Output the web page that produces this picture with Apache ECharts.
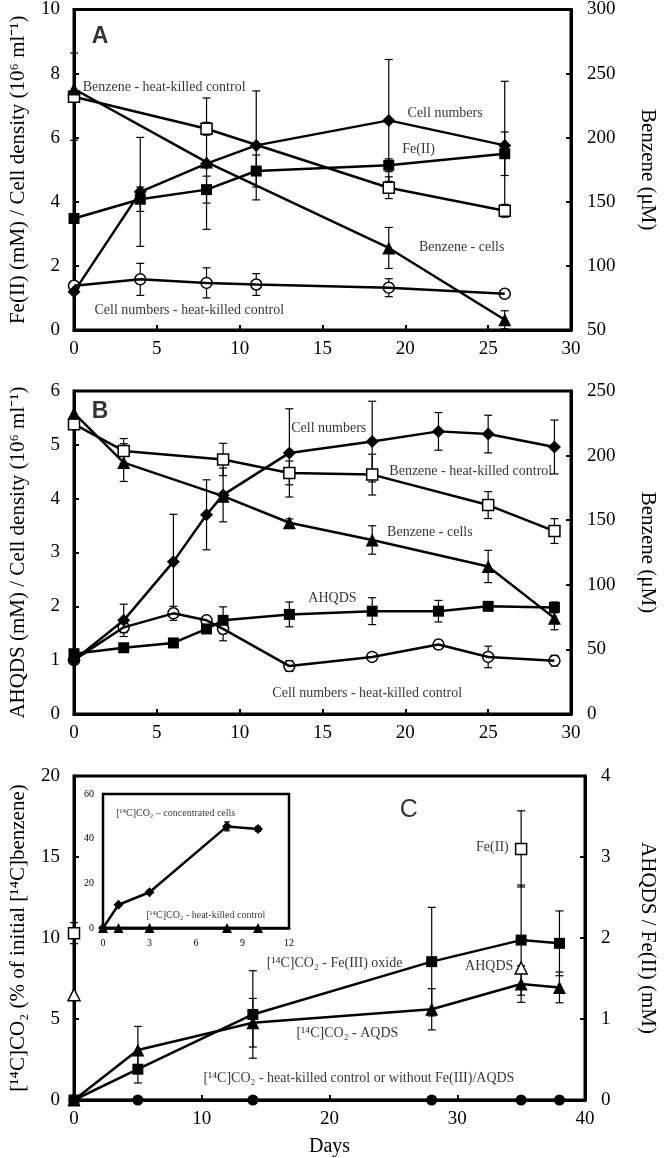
<!DOCTYPE html>
<html><head><meta charset="utf-8">
<script src="https://cdn.jsdelivr.net/npm/echarts@6/dist/echarts.min.js"></script>
<style>html,body{margin:0;padding:0;background:#fff}#c{width:666px;height:1158px}</style>
</head><body><div id="c"></div>
<script>
// ---------- Panel A ----------
const daysA = [0, 4, 8, 11, 19, 26];
const cellsA = [1.19, 4.31, 5.19, 5.76, 6.54, 5.76];
const cellsAErr = [0, 1.7, 2.05, 1.7, 1.9, 2.0];
const fe2A = [3.48, 4.08, 4.38, 4.96, 5.14, 5.5];
const fe2AErr = [0, 0.38, 0.42, 0.5, 0.2, 0.68];
const cellsKilledA = [1.38, 1.58, 1.47, 1.42, 1.32, 1.13];
const cellsKilledAErr = [0, 0.5, 0.47, 0.34, 0.28, 0.07];
const daysBenzA = [0, 8, 19, 26];
const benzKilledA = [232, 207, 161, 143];
const benzKilledAErr = [34, 5, 8.5, 5];
const benzCellsA = [238, 181, 114, 58];
const benzCellsAErr = [0, 0, 16, 7];
// ---------- Panel B ----------
const daysB = [0, 3, 6, 8, 9, 13, 18, 22, 25, 29];
const cellsB = [1.0, 1.74, 2.83, 3.70, 4.07, 4.85, 5.06, 5.25, 5.20, 4.96];
const cellsBErr = [0, 0.3, 0.88, 0.65, 0.5, 0.82, 0.75, 0.35, 0.35, 0.5];
const ahqdsB = [1.12, 1.23, 1.32, 1.58, 1.74, 1.85, 1.91, 1.91, 2.0, 1.98];
const ahqdsBErr = [0, 0, 0, 0, 0.25, 0.23, 0.25, 0.2, 0.05, 0.1];
const cellsKilledB = [1.0, 1.61, 1.87, 1.74, 1.58, 0.89, 1.06, 1.29, 1.06, 0.99];
const cellsKilledBErr = [0, 0.1, 0.13, 0.05, 0.22, 0.1, 0.05, 0.08, 0.2, 0.1];
const daysBenzB = [0, 3, 9, 13, 18, 25, 29];
const benzKilledB = [224.3, 203.6, 197, 186.6, 185.3, 161.7, 141.6];
const benzKilledBErr = [0, 9.6, 12.5, 9.2, 15.8, 10.4, 9.6];
const benzCellsB = [232.8, 194.6, 168.6, 148, 134.7, 114.2, 74.2];
const benzCellsBErr = [0, 14.6, 0, 3, 11, 12.5, 9];
// ---------- Panel C ----------
const daysC = [0, 5, 14, 28, 35, 38];
const co2FeOxide = [0, 1.9, 5.28, 8.54, 9.87, 9.67];
const co2FeOxideErr = [0, 0.85, 2.7, 3.35, 3.4, 2.0];
const co2Aqds = [0, 3.09, 4.77, 5.6, 7.16, 6.95];
const co2AqdsErr = [0, 1.45, 1.5, 1.27, 1.13, 0.95];
const co2Killed = [0, 0, 0, 0, 0, 0];
const daysFeC = [0, 35];
const fe2C = [2.06, 3.10];
const fe2CErr = [0.13, 0.47];
const ahqdsC = [1.30, 1.63];
// ---------- Inset ----------
const daysInset = [0, 1, 3, 8, 10];
const co2Conc = [0, 10.4, 16.0, 45.5, 44.3];
const co2ConcErr = [0, 0, 0, 2.0, 1.0];
const co2KilledInset = [0, 0, 0, 0, 0];
// ---------- Text ----------
const annotA = [[5.44, 7.58, 'Benzene - heat-killed control'], [22.4, 6.75, 'Cell numbers'], [20.8, 5.64, 'Fe(II)'], [23.4, 2.59, 'Benzene - cells'], [6.96, 0.62, 'Cell numbers - heat-killed control']];
const annotB = [[15.38, 5.31, 'Cell numbers'], [23.95, 4.50, 'Benzene - heat-killed control'], [21.48, 3.375, 'Benzene - cells'], [15.6, 2.15, 'AHQDS'], [17.7, 0.385, 'Cell numbers - heat-killed control']];
const annotC = [[32.75, 15.6, 'Fe(II)'], [32.5, 8.23, 'AHQDS'], [20.4, 8.44, '[¹⁴C]CO₂ - Fe(III) oxide'], [21.4, 4.12, '[¹⁴C]CO₂ - AQDS'], [22.3, 1.34, '[¹⁴C]CO₂ - heat-killed control or without Fe(III)/AQDS']];
const annotInset = [[4.69, 51.5, '[¹⁴C]CO₂ – concentrated cells'], [6.63, 5.6, '[¹⁴C]CO₂ - heat-killed control']];
const letterA = [[1.57, 9.16, 'A']];
const letterB = [[1.57, 5.61, 'B']];
const letterC = [[26.2, 17.9, 'C']];

const SERIF = '"Liberation Serif","Times New Roman",serif';
const SANS = '"Liberation Sans",Arial,sans-serif';

function xAx(g, min, max, interval, extra) {
  return Object.assign({
    gridIndex: g, type: 'value', min, max, interval,
    axisLine: {show: true, onZero: false, lineStyle: {color: '#000', width: 3}},
    axisTick: {show: true, inside: true, length: 5, lineStyle: {color: '#000', width: 2}},
    axisLabel: {color: '#000', fontFamily: SERIF, fontSize: 19, margin: 10},
    splitLine: {show: false}
  }, extra || {});
}
function yAx(g, pos, min, max, interval, name, gap, extra) {
  return Object.assign({
    gridIndex: g, type: 'value', position: pos, min, max, interval,
    name, nameLocation: 'middle', nameGap: gap, nameRotate: pos === 'left' ? 90 : -90,
    nameTextStyle: {color: '#000', fontFamily: SERIF, fontSize: 21},
    axisLine: {show: true, onZero: false, lineStyle: {color: '#000', width: 3}},
    axisTick: {show: true, inside: true, length: 5, lineStyle: {color: '#000', width: 2}},
    axisLabel: {color: '#000', fontFamily: SERIF, fontSize: 19, margin: pos === 'left' ? 14 : 16},
    splitLine: {show: false}
  }, extra || {});
}

const series = [];
function zip(xs, ys) { return xs.map((x, i) => [x, ys[i]]); }
function styleOf(open) {
  return open ? {color: '#fff', borderColor: '#000', borderWidth: 1.5, opacity: 1} : {color: '#000', opacity: 1};
}
function addLine(xi, yi, xs, ys, symbol, size, open, lineOver) {
  const data = zip(xs, ys);
  const itemStyle = styleOf(open);
  if (lineOver) {
    series.push({type: 'scatter', xAxisIndex: xi, yAxisIndex: yi, data, symbol, symbolSize: size, itemStyle, z: 3, clip: false});
    series.push({type: 'line', xAxisIndex: xi, yAxisIndex: yi, data, showSymbol: false, lineStyle: {color: '#000', width: 2.5}, z: 4, clip: false});
  } else {
    series.push({type: 'line', xAxisIndex: xi, yAxisIndex: yi, data, symbol, symbolSize: size, showSymbol: true,
      itemStyle, lineStyle: {color: '#000', width: 2.5}, z: 4, clip: false});
  }
}
function addPoints(xi, yi, xs, ys, symbol, size, open) {
  series.push({type: 'scatter', xAxisIndex: xi, yAxisIndex: yi, data: zip(xs, ys), symbol, symbolSize: size, itemStyle: styleOf(open), z: 5, clip: false});
}
function addErr(xi, yi, xs, ys, es, cap) {
  const data = xs.map((x, i) => [x, ys[i], es[i]]).filter(d => d[2] > 0);
  const c = cap || 4;
  series.push({
    type: 'custom', xAxisIndex: xi, yAxisIndex: yi, data, z: 2, clip: false, silent: true,
    encode: {x: 0, y: 1},
    renderItem: function (params, api) {
      const x = api.value(0), y = api.value(1), e = api.value(2);
      const lo = api.coord([x, y - e]), hi = api.coord([x, y + e]);
      const st = {stroke: '#000', lineWidth: 1.2};
      return {type: 'group', children: [
        {type: 'line', shape: {x1: lo[0], y1: lo[1], x2: hi[0], y2: hi[1]}, style: st},
        {type: 'line', shape: {x1: lo[0] - c, y1: lo[1], x2: lo[0] + c, y2: lo[1]}, style: st},
        {type: 'line', shape: {x1: hi[0] - c, y1: hi[1], x2: hi[0] + c, y2: hi[1]}, style: st}
      ]};
    }
  });
}
function addText(xi, yi, arr, style) {
  series.push({
    type: 'scatter', xAxisIndex: xi, yAxisIndex: yi, data: arr.map(a => [a[0], a[1], a[2]]),
    symbolSize: 1, itemStyle: {color: 'rgba(0,0,0,0)'}, silent: true, z: 10, clip: false,
    label: Object.assign({show: true, position: 'inside', formatter: p => p.data[2], color: '#000',
      fontFamily: SERIF, fontSize: 14, align: 'center', verticalAlign: 'middle'}, style || {})
  });
}

// Panel A (x 0, yL 0, yR 1)
addErr(0, 0, daysA, cellsA, cellsAErr);
addErr(0, 0, daysA, fe2A, fe2AErr);
addErr(0, 0, daysA, cellsKilledA, cellsKilledAErr);
addErr(0, 1, daysBenzA, benzKilledA, benzKilledAErr);
addErr(0, 1, daysBenzA, benzCellsA, benzCellsAErr);
addLine(0, 1, daysBenzA, benzKilledA, 'rect', 11, true);
addLine(0, 1, daysBenzA, benzCellsA, 'triangle', 13, false);
addLine(0, 0, daysA, cellsA, 'diamond', 13, false);
addLine(0, 0, daysA, fe2A, 'rect', 11, false);
addLine(0, 0, daysA, cellsKilledA, 'circle', 11, true, true);
addText(0, 0, annotA);
addText(0, 0, letterA, {fontFamily: SANS, fontWeight: 'bold', fontSize: 23});

// Panel B (x 1, yL 2, yR 3)
addErr(1, 2, daysB, cellsB, cellsBErr);
addErr(1, 2, daysB, ahqdsB, ahqdsBErr);
addErr(1, 2, daysB, cellsKilledB, cellsKilledBErr);
addErr(1, 3, daysBenzB, benzKilledB, benzKilledBErr);
addErr(1, 3, daysBenzB, benzCellsB, benzCellsBErr);
addLine(1, 3, daysBenzB, benzKilledB, 'rect', 11, true);
addLine(1, 3, daysBenzB, benzCellsB, 'triangle', 13, false);
addLine(1, 2, daysB, cellsKilledB, 'circle', 11, true, true);
addLine(1, 2, daysB, ahqdsB, 'rect', 11, false);
addLine(1, 2, daysB, cellsB, 'diamond', 13, false);
addText(1, 2, annotB);
addText(1, 2, letterB, {fontFamily: SANS, fontWeight: 'bold', fontSize: 23});

// Panel C (x 2, yL 4, yR 5)
addErr(2, 4, daysC, co2FeOxide, co2FeOxideErr);
addErr(2, 4, daysC, co2Aqds, co2AqdsErr);
addErr(2, 5, daysFeC, fe2C, fe2CErr);
addLine(2, 4, daysC, co2Killed, 'circle', 11, false);
addLine(2, 4, daysC, co2Aqds, 'triangle', 13, false);
addLine(2, 4, daysC, co2FeOxide, 'rect', 11, false);
addPoints(2, 5, daysFeC, fe2C, 'rect', 11, true);
addPoints(2, 5, daysFeC, ahqdsC, 'triangle', 12, true);
addText(2, 4, annotC);
addText(2, 4, letterC, {fontFamily: SANS, fontSize: 25});

// Inset (x 3, y 6)
addErr(3, 6, daysInset, co2Conc, co2ConcErr, 3);
addLine(3, 6, daysInset, co2KilledInset, 'triangle', 10, false);
addLine(3, 6, daysInset, co2Conc, 'diamond', 10, false);
addText(3, 6, annotInset, {fontSize: 10});

const gridBase = {show: true, borderColor: '#000', borderWidth: 3, backgroundColor: 'transparent'};
const option = {
  animation: false,
  backgroundColor: '#fff',
  grid: [
    Object.assign({left: 69, top: 8, width: 516, height: 322}, gridBase),
    Object.assign({left: 69, top: 391, width: 516, height: 323}, gridBase),
    Object.assign({left: 69, top: 776, width: 516, height: 324}, gridBase),
    {show: true, left: 103, top: 794, width: 186, height: 134, borderColor: '#000', borderWidth: 2.5, backgroundColor: '#fff', z: 1}
  ],
  xAxis: [
    xAx(0, 0, 30, 5),
    xAx(1, 0, 30, 5),
    xAx(2, 0, 40, 10, {name: 'Days', nameLocation: 'middle', nameGap: 37,
      nameTextStyle: {color: '#000', fontFamily: SERIF, fontSize: 20}}),
    xAx(3, 0, 12, 3, {axisLine: {show: true, onZero: false, lineStyle: {color: '#000', width: 2.5}},
      axisTick: {show: true, inside: true, length: 3, lineStyle: {color: '#000', width: 2}},
      axisLabel: {color: '#000', fontFamily: SERIF, fontSize: 10, margin: 10}})
  ],
  yAxis: [
    yAx(0, 'left', 0, 10, 2, 'Fe(II) (mM) / Cell density (10⁶ ml⁻¹)', 45),
    yAx(0, 'right', 50, 300, 50, 'Benzene (μM)', 66),
    yAx(1, 'left', 0, 6, 1, 'AHQDS (mM) / Cell density (10⁶ ml⁻¹)', 45),
    yAx(1, 'right', 0, 250, 50, 'Benzene (μM)', 66),
    yAx(2, 'left', 0, 20, 5, '[¹⁴C]CO₂ (% of initial [¹⁴C]benzene)', 45),
    yAx(2, 'right', 0, 4, 1, 'AHQDS / Fe(II) (mM)', 52),
    yAx(3, 'left', 0, 60, 20, '', 0, {axisLine: {show: true, onZero: false, lineStyle: {color: '#000', width: 2.5}},
      axisTick: {show: true, inside: true, length: 3, lineStyle: {color: '#000', width: 2}},
      axisLabel: {color: '#000', fontFamily: SERIF, fontSize: 10, margin: 9}})
  ],
  series
};
const chart = echarts.init(document.getElementById('c'), null, {renderer: 'canvas'});
chart.setOption(option);
</script></body></html>
